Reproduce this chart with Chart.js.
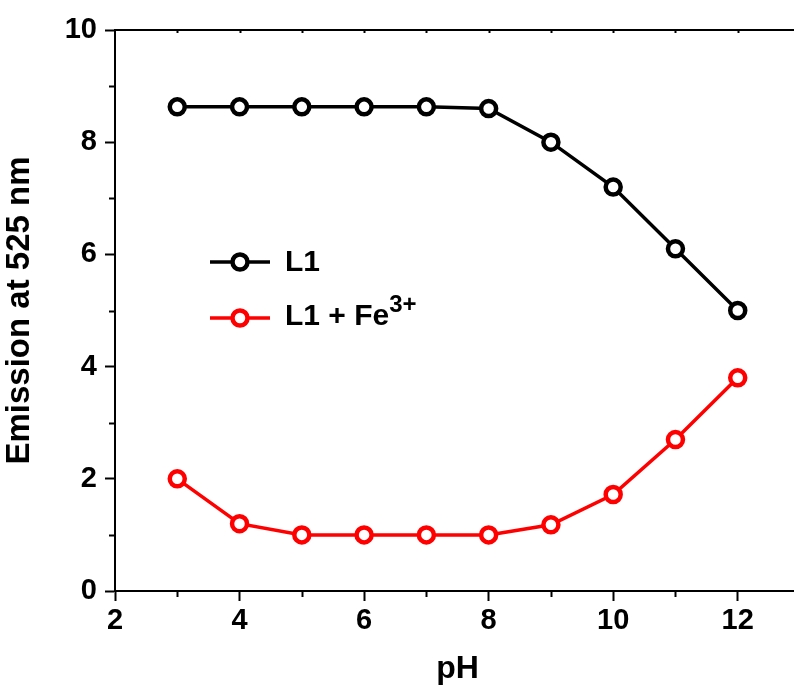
<!DOCTYPE html>
<html>
<head>
<meta charset="utf-8">
<script src="https://cdn.jsdelivr.net/npm/chart.js@4.4.1/dist/chart.umd.min.js"></script>
<style>
  html, body { margin: 0; padding: 0; background: #fff; overflow: hidden; }
  canvas { display: block; }
</style>
</head>
<body>
<canvas id="chart" width="812" height="688"></canvas>
<script>
// data
const phValues = [3, 4, 5, 6, 7, 8, 9, 10, 11, 12];
const l1 = [8.63, 8.63, 8.63, 8.63, 8.63, 8.6, 8.0, 7.2, 6.1, 5.0];
const l1Fe = [2.0, 1.2, 1.0, 1.0, 1.0, 1.0, 1.18, 1.72, 2.7, 3.8];
const seriesNames = ["L1", "L1 + Fe"];
const seriesColors = ["#000000", "#ff0000"];

const FONT = "'Liberation Sans', Arial, sans-serif";

const toPoints = ys => phValues.map((x, i) => ({ x: x, y: ys[i] }));

// minor ticks, top frame line and the in-plot legend
const framePlugin = {
  id: "frame",
  afterDraw(chart) {
    const ctx = chart.ctx;
    const a = chart.chartArea;
    const xs = chart.scales.x, ys = chart.scales.y;
    ctx.save();
    ctx.strokeStyle = "#000";
    ctx.lineWidth = 2;
    // top border
    ctx.beginPath();
    ctx.moveTo(a.left, a.top);
    ctx.lineTo(a.right, a.top);
    ctx.stroke();
    // minor ticks on x (odd values) + small inward ticks on top
    for (let v = 2; v <= 13; v++) {
      const px = Math.round(xs.getPixelForValue(v)) + 0.5;
      if (v % 2 === 1) {
        ctx.beginPath();
        ctx.moveTo(px, a.bottom);
        ctx.lineTo(px, a.bottom + 6);
        ctx.stroke();
      }
      if (v > 2) {
        ctx.beginPath();
        ctx.moveTo(px, a.top);
        ctx.lineTo(px, a.top + 3);
        ctx.stroke();
      }
    }
    // minor ticks on y
    for (let v = 1; v < 10; v += 2) {
      const py = Math.round(ys.getPixelForValue(v)) + 0.5;
      ctx.beginPath();
      ctx.moveTo(a.left, py);
      ctx.lineTo(a.left - 6, py);
      ctx.stroke();
    }

    // legend
    const lx = a.left + 95;
    const rows = [a.top + 232, a.top + 288];
    const baselines = [a.top + 241, a.top + 295];
    rows.forEach((ry, i) => {
      ctx.strokeStyle = seriesColors[i];
      ctx.lineWidth = 3.5;
      ctx.beginPath();
      ctx.moveTo(lx, ry);
      ctx.lineTo(lx + 60, ry);
      ctx.stroke();
      ctx.beginPath();
      ctx.arc(lx + 30, ry, 7.5, 0, Math.PI * 2);
      ctx.fillStyle = "#fff";
      ctx.fill();
      ctx.lineWidth = 4.5;
      ctx.stroke();

      ctx.fillStyle = "#000";
      ctx.textBaseline = "alphabetic";
      ctx.textAlign = "left";
      ctx.font = "bold 30px " + FONT;
      ctx.fillText(seriesNames[i], lx + 75, baselines[i]);
      if (i === 1) {
        const w = ctx.measureText(seriesNames[i]).width;
        ctx.font = "bold 24px " + FONT;
        ctx.fillText("3+", lx + 75 + w, baselines[i] - 13);
      }
    });
    ctx.restore();
  }
};

new Chart(document.getElementById("chart"), {
  type: "line",
  data: {
    datasets: [
      {
        label: seriesNames[0],
        data: toPoints(l1),
        borderColor: seriesColors[0],
        backgroundColor: "#fff",
        pointBorderColor: seriesColors[0],
        borderWidth: 3.5,
        pointRadius: 7.5,
        pointBorderWidth: 4.5,
        pointBackgroundColor: "#fff"
      },
      {
        label: seriesNames[1],
        data: toPoints(l1Fe),
        borderColor: seriesColors[1],
        backgroundColor: "#fff",
        pointBorderColor: seriesColors[1],
        borderWidth: 3.5,
        pointRadius: 7.5,
        pointBorderWidth: 4.5,
        pointBackgroundColor: "#fff"
      }
    ]
  },
  options: {
    responsive: false,
    animation: false,
    layout: { padding: { top: 30, right: 0, left: 0, bottom: 0 } },
    plugins: {
      legend: { display: false },
      tooltip: { enabled: false }
    },
    scales: {
      x: {
        type: "linear",
        min: 2,
        max: 13,
        afterFit: scale => { scale.height = 97; },
        border: { display: true, color: "#000", width: 2 },
        grid: {
          drawOnChartArea: false,
          drawTicks: true,
          tickLength: 10,
          tickWidth: 2,
          tickColor: c => (c.tick && c.tick.value % 2 === 0 ? "#000" : "rgba(0,0,0,0)")
        },
        ticks: {
          stepSize: 1,
          includeBounds: false,
          padding: 3,
          color: "#000",
          font: { family: FONT, size: 29, weight: "bold" },
          maxRotation: 0,
          autoSkip: false,
          callback: v => (v % 2 === 0 ? v : "")
        },
        title: {
          display: true,
          text: "pH",
          color: "#000",
          font: { family: FONT, size: 32, weight: "bold" },
          padding: { top: 0, bottom: 0 }
        }
      },
      y: {
        min: 0,
        max: 10,
        afterFit: scale => { scale.width = 115; },
        border: { display: true, color: "#000", width: 2 },
        grid: {
          drawOnChartArea: false,
          drawTicks: true,
          tickLength: 10,
          tickWidth: 2,
          tickColor: c => (c.tick && c.tick.value % 2 === 0 ? "#000" : "rgba(0,0,0,0)")
        },
        ticks: {
          stepSize: 1,
          padding: 8,
          color: "#000",
          font: { family: FONT, size: 29, weight: "bold" },
          autoSkip: false,
          callback: v => (v % 2 === 0 ? v : "")
        },
        title: {
          display: true,
          text: "Emission at 525 nm",
          color: "#000",
          font: { family: FONT, size: 33, weight: "bold" },
          padding: { top: 0, bottom: 4 }
        }
      }
    }
  },
  plugins: [framePlugin]
});
</script>
</body>
</html>
